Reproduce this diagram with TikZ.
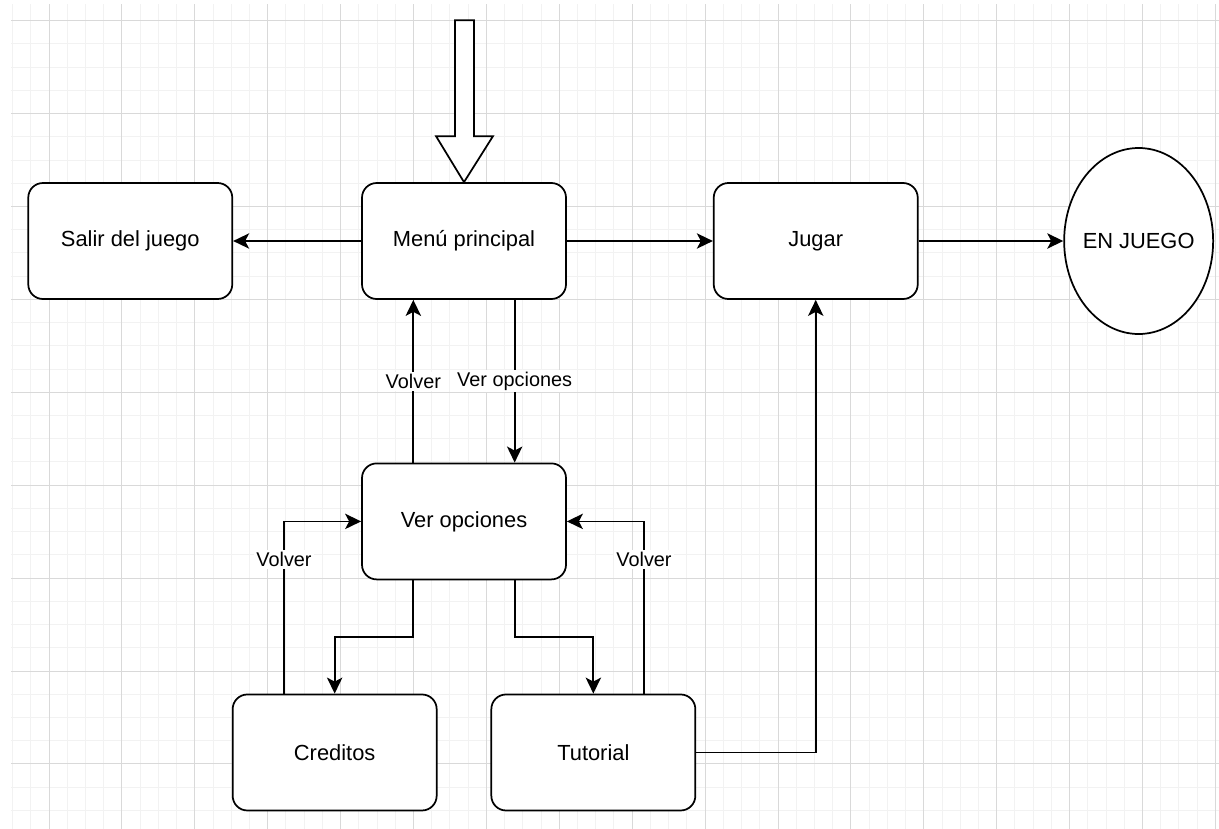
\documentclass[tikz,border=0pt]{standalone}
\usepackage{fontspec}
\setmainfont{Liberation Sans}
\usetikzlibrary{positioning, arrows.meta, shapes.geometric}

\tikzset{
    state/.style={rectangle, rounded corners=11pt, draw, line width=1.3pt, fill=white,
        minimum width=153pt, minimum height=87pt, font=\fontsize{16.4pt}{19pt}\selectfont},
    final/.style={ellipse, draw, line width=1.3pt, fill=white, inner xsep=-6pt, inner ysep=0pt,
        minimum width=111.75pt, minimum height=139.5pt, font=\fontsize{16.4pt}{19pt}\selectfont},
    flow/.style={line width=1.3pt, -{Stealth[length=12pt, width=11.5pt, inset=3pt]}},
    lbl/.style={fill=white, inner sep=1.5pt, font=\fontsize{14.9pt}{17pt}\selectfont},
    gridminor/.style={draw=black!5, line width=0.75pt},
    gridmajor/.style={draw=black!15, line width=0.75pt}
}

\begin{document}
\begin{tikzpicture}[x=0.75pt, y=-0.75pt]
        \useasboundingbox (0,0) rectangle (1219,828);
        % squared paper behind the states
        \begin{scope}[shift={(49,20.7)}]
            \clip (-38,-16.7) rectangle (1170,807.3);
            \draw [gridminor, xstep=13.669pt, ystep=17.419pt] (-60,830) grid (1200,-40);
            \draw [gridmajor, xstep=54.675pt, ystep=69.675pt] (-60,830) grid (1200,-40);
        \end{scope}

        \node [state] (menu) at (464,241) {Menú principal};
        \node [state, left=96pt of menu] (salir) {Salir del juego};
        \node [state, right=109.5pt of menu] (jugar) {Jugar};
        \node [final, right=108.5pt of jugar] (juego) {EN JUEGO};
        \node [state, below=122pt of menu] (ver) {Ver opciones};
        \node [state, below=85pt of ver, xshift=-97pt] (creditos) {Creditos};
        \node [state, below=85pt of ver, xshift=97pt] (tutorial) {Tutorial};

        % entry arrow
        \draw [line width=1.3pt, fill=white] (menu.north) -- ++(-28,-46) -- ++(19,0) -- ++(0,-116)
            -- ++(19,0) -- ++(0,116) -- ++(19,0) -- cycle;

        \draw [flow] (menu) to (salir);
        \draw [flow] (menu) to (jugar);
        \draw [flow] (jugar) to (juego);
        \draw [flow] ([xshift=-38pt]ver.north) to node [lbl] {Volver} ([xshift=-38pt]menu.south);
        \draw [flow] ([xshift=38pt]menu.south) to node [lbl] {Ver opciones} ([xshift=38pt]ver.north);
        \draw [flow] ([xshift=-38pt]ver.south) -- ++(0,57) -| (creditos);
        \draw [flow] ([xshift=38pt]ver.south) -- ++(0,57) -| (tutorial);
        \draw [flow] ([xshift=-38pt]creditos.north) |- node [lbl, pos=0.39] {Volver} (ver);
        \draw [flow] ([xshift=38pt]tutorial.north) |- node [lbl, pos=0.39] {Volver} (ver);
        \draw [flow] (tutorial) -| (jugar);
    \end{tikzpicture}
\end{document}
